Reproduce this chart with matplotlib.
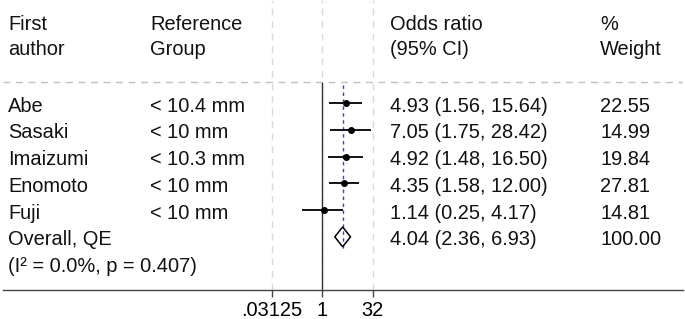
import matplotlib
matplotlib.use("Agg")
import matplotlib.pyplot as plt
from matplotlib import transforms

# ---- data ----
authors = ["Abe", "Sasaki", "Imaizumi", "Enomoto", "Fuji"]
ref_group = ["< 10.4 mm", "< 10 mm", "< 10.3 mm", "< 10 mm", "< 10 mm"]
odds = [4.93, 7.05, 4.92, 4.35, 1.14]
ci_low = [1.56, 1.75, 1.48, 1.58, 0.25]
ci_high = [15.64, 28.42, 16.50, 12.00, 4.17]
weights = [22.55, 14.99, 19.84, 27.81, 14.81]
overall_or, overall_lo, overall_hi = 4.04, 2.36, 6.93
overall_weight = 100.00
overall_label = "Overall, QE"
het_label = "(I\u00b2 = 0.0%, p = 0.407)"
tick_vals = [1 / 32, 1, 32]
tick_labels = [".03125", "1", "32"]

plt.rcParams["font.family"] = ["Liberation Sans", "DejaVu Sans"]
FS = 14.4

fig = plt.figure(figsize=(6.85, 3.19), dpi=100)
ax = fig.add_axes([3 / 685, 29 / 319, 680 / 685, 290 / 319])
ax.set_xscale("log", base=2)
ax.set_xlim(2 ** -31.6, 2 ** 35.7)
ax.set_ylim(6.99, -3.87)

for s in ["top", "left", "right"]:
    ax.spines[s].set_visible(False)
ax.spines["bottom"].set_color("#444444")
ax.spines["bottom"].set_linewidth(1.0)
ax.set_yticks([])
ax.set_xticks(tick_vals)
ax.set_xticklabels(tick_labels)
ax.minorticks_off()
ax.tick_params(axis="x", length=5, width=1, color="#444444", labelsize=FS, pad=3)

# grid-ish dashed lines
grid_kw = dict(color="#dadada", lw=1, ls=(0, (5, 4)), zorder=0)
for t in tick_vals:
    ax.axvline(t, **grid_kw)
ax.axhline(-0.80, color="#c0c0c0", lw=1, ls=(0, (5, 4)), zorder=0)

# null line and overall line
ax.plot([1, 1], [-0.76, 6.99], color="#333333", lw=1, zorder=2, clip_on=False)
ax.plot([overall_or, overall_or], [-0.68, 5.45], color="#3c3ce0", lw=1,
        ls=(0, (2.5, 2.5)), zorder=3)

# study estimates
rows = list(range(len(authors)))
ax.hlines(rows, ci_low, ci_high, color="black", lw=1.3, zorder=4)
ax.plot(odds, rows, "o", color="black", ms=4, zorder=5)

# overall diamond
yd = len(authors)
ax.fill([overall_lo, overall_or, overall_hi, overall_or, overall_lo],
        [yd, yd - 0.37, yd, yd + 0.37, yd], facecolor="none",
        edgecolor="black", lw=1.1, zorder=4)

# text columns
tr = transforms.blended_transform_factory(fig.transFigure, ax.transData)
tr = tr + transforms.ScaledTranslation(0, -0.084, fig.dpi_scale_trans)
cols = [8 / 685, 150 / 685, 390 / 685, 600 / 685]

def put(col, y, s):
    ax.text(cols[col], y, s, transform=tr, fontsize=FS, va="baseline",
            ha="left", color="#111111")

put(0, -3.06, "First")
put(0, -2.12, "author")
put(1, -3.06, "Reference")
put(1, -2.12, "Group")
put(2, -3.06, "Odds ratio")
put(2, -2.12, "(95% CI)")
put(3, -3.06, "%")
put(3, -2.12, "Weight")

for i in rows:
    put(0, i, authors[i])
    put(1, i, ref_group[i])
    put(2, i, f"{odds[i]:.2f} ({ci_low[i]:.2f}, {ci_high[i]:.2f})")
    put(3, i, f"{weights[i]:.2f}")

put(0, yd, overall_label)
put(2, yd, f"{overall_or:.2f} ({overall_lo:.2f}, {overall_hi:.2f})")
put(3, yd, f"{overall_weight:.2f}")
put(0, yd + 1, het_label)

fig.savefig("out.png", dpi=100)
